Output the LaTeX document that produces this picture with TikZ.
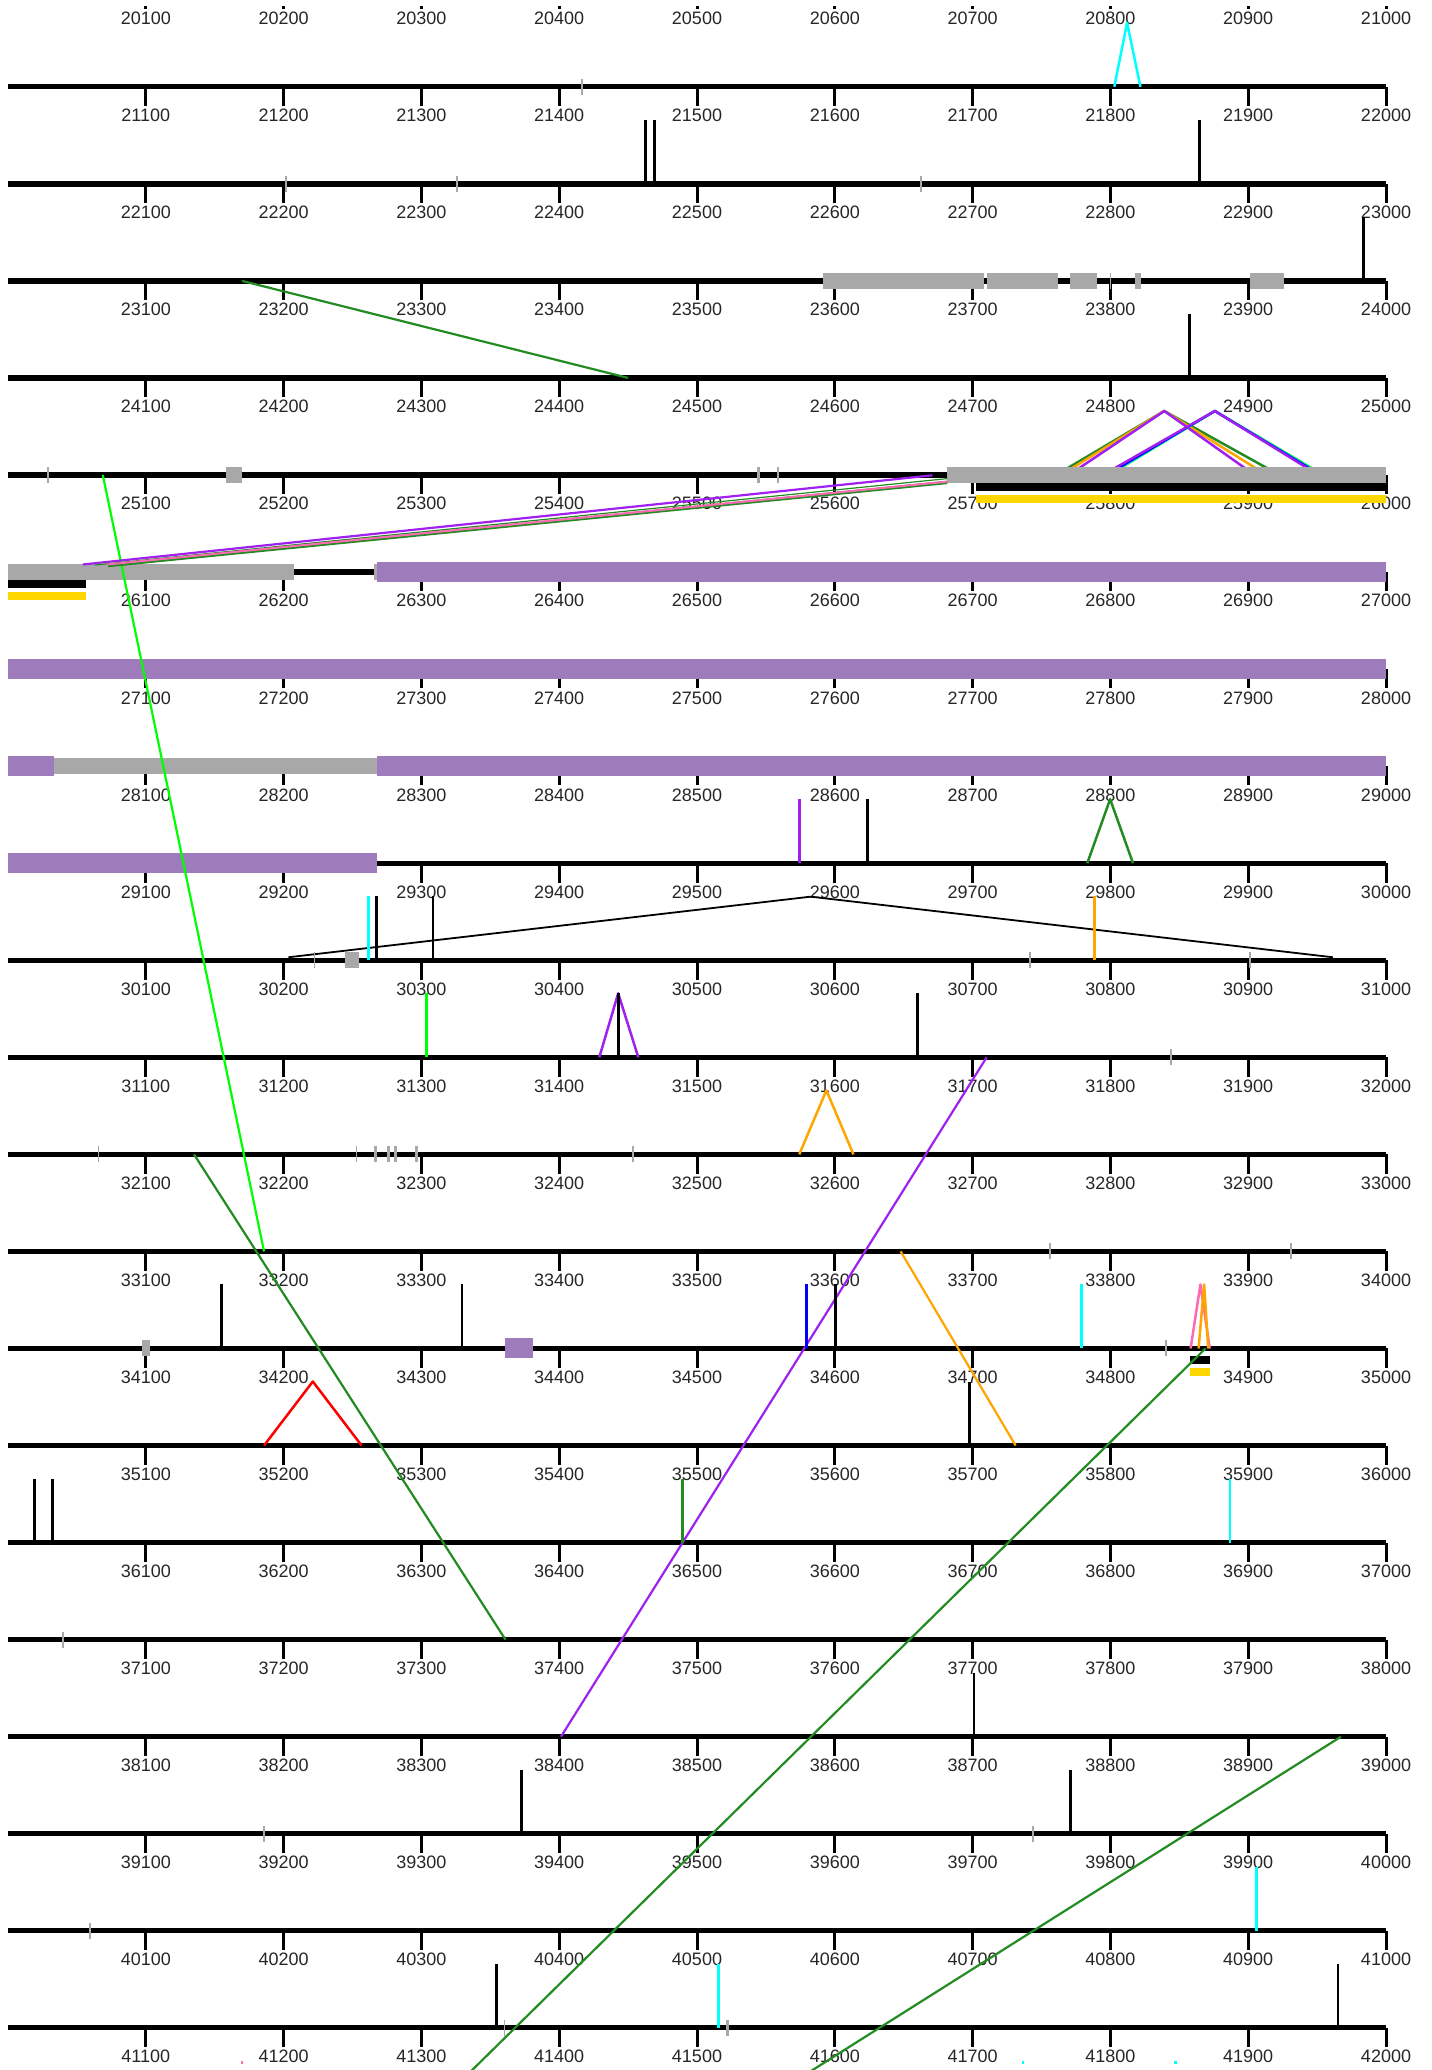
\documentclass[tikz,border=0pt]{standalone}
\usepackage{fontspec}
\setmainfont{Liberation Sans}
\definecolor{gboxc}{RGB}{168,168,168}
\definecolor{pboxc}{RGB}{158,124,188}
\definecolor{limec}{RGB}{0,255,0}
\definecolor{dgreen}{RGB}{34,139,34}
\definecolor{vpurple}{RGB}{160,32,240}
\definecolor{forange}{RGB}{255,165,0}
\definecolor{fpink}{RGB}{255,105,180}
\definecolor{fyellow}{RGB}{255,215,0}
\definecolor{fcyan}{RGB}{0,255,255}
\definecolor{fblue}{RGB}{0,0,255}
\definecolor{fred}{RGB}{255,0,0}
\newcommand\RX[1]{8+1.378*(#1)}
\newcommand\RY[1]{86.8+97.05*(#1)}
\newcommand\FB[3][black]{\draw[barline,#1] ({\RX{#3}},{\RY{#2}}) -- ++(0,-64);}
\newcommand\FP[5][black]{\draw[peakline,#1] ({\RX{#3}},{\RY{#2}}) -- ({\RX{#4}},{\RY{#2}-64}) -- ({\RX{#5}},{\RY{#2}});}
\newcommand\GT[3][2pt]{\draw[gtick,line width=#1] ({\RX{#3}},{\RY{#2}-8}) -- ({\RX{#3}},{\RY{#2}+8});}
\newcommand\GB[3]{\fill[gboxc] ({\RX{#2}},{\RY{#1}-8}) rectangle ({\RX{#3}},{\RY{#1}+8});}
\newcommand\PB[3]{\fill[pboxc] ({\RX{#2}},{\RY{#1}-10}) rectangle ({\RX{#3}},{\RY{#1}+10});}
\newcommand\SB[3]{\fill[black] ({\RX{#2}},{\RY{#1}+8}) rectangle ({\RX{#3}},{\RY{#1}+16});
  \fill[fyellow] ({\RX{#2}},{\RY{#1}+20}) rectangle ({\RX{#3}},{\RY{#1}+28});}
\newcommand\CN[7][black]{\draw[conline,#1] ({\RX{#3}},{\RY{#2}+(#4)}) -- ({\RX{#6}},{\RY{#5}+(#7)});}
\newcommand\TM[2][black]{\draw[barline,#1] ({\RX{#2}},2061) -- ({\RX{#2}},2063.5);}
\begin{document}
\begin{tikzpicture}[x=1pt,y=-1pt,
  rowline/.style={line width=5.3pt},
  tickline/.style={line width=3pt},
  lab/.style={font=\fontsize{18}{20}\selectfont, inner sep=0pt, anchor=center, text=black!85},
  barline/.style={line width=2.8pt},
  peakline/.style={line width=2.5pt, line join=round},
  triline/.style={line width=1.8pt, line join=round},
  gtick/.style={draw=gboxc},
  conline/.style={line width=2.2pt}]
\useasboundingbox (0,0) rectangle (1432,2070);
\begin{scope}
\clip (7,6.7) rectangle (1425,2069);
% rows, ticks, labels
\foreach \k in {-1,...,20}{
  \draw[rowline] ({\RX{0}},{\RY{\k}}) -- ({\RX{1000}},{\RY{\k}});
  \foreach \j in {1,...,10}{
    \draw[tickline] ({\RX{100*\j}},{\RY{\k}}) -- ++(0,19.3);
    \node[lab] at ({\RX{100*\j}},{\RY{\k}+28.7}) {\number\numexpr20000+1000*(\k+1)+100*\j\relax};
  }
}
% peaks
\FP[fcyan]{0}{802.8}{812.1}{821.8}
\FP[dgreen]{8}{783.2}{799.8}{816.4}
\FP[vpurple]{10}{429.1}{442.8}{457.4}
\FP[forange]{11}{574.2}{593.9}{613.5}
\FP[fred]{14}{185.8}{221.2}{256.6}
\FP[fpink]{13}{858.2}{865.3}{872.1}
\FP[forange]{13}{864.0}{868.0}{871.0}
\FP[dgreen]{4}{760.5}{839.1}{922.6}
\FP[forange]{4}{764.2}{839.1}{913.3}
\FP[vpurple]{4}{769.9}{839.1}{904.7}
\FP[limec]{4}{799}{875.8}{954.5}
\FP[fcyan]{4}{798}{875.8}{953.2}
\FP[fblue]{4}{797.1}{875.8}{952.4}
\FP[vpurple]{4}{794.5}{875.8}{951}
\draw[triline] ({\RX{203.5}},{\RY{9}-3}) -- ({\RX{582.5}},{\RY{9}-63.6}) -- ({\RX{961.4}},{\RY{9}-3});
% boxes
\GB{2}{591.5}{708.2} \GB{2}{710.2}{762.2} \GB{2}{770.8}{790.1} \GB{2}{818.1}{822.2} \GB{2}{901.4}{926.1}
\GB{4}{158.1}{169.8} \GB{4}{681.6}{1000}
\GB{5}{0}{207.5} \GB{5}{265.8}{268.2}
\GB{7}{33.5}{268.1}
\GB{9}{244.5}{254.8}
\GB{13}{97}{103}
\PB{5}{268.1}{1000} \PB{6}{0}{1000} \PB{7}{0}{33.5} \PB{7}{268.1}{1000} \PB{8}{0}{268.1} \PB{13}{361}{381}
\SB{4}{702.5}{1000} \SB{5}{0}{56.5} \SB{13}{857.8}{872}
% connectors
\CN[dgreen]{2}{169.8}{0}{3}{450.1}{0}
\CN[limec]{4}{68.8}{0}{12}{185.8}{0}
\draw[conline,vpurple] (932.4,475.3) -- (82.7,564.5);
\draw[line width=1.2pt,dgreen] (947.3,478.6) -- (95,565);
\draw[line width=3.4pt,dgreen] (947.3,482.4) -- (108,565.5);
\draw[line width=2pt,fpink] (947.3,481.6) -- (107,564.5);
\CN[dgreen]{11}{135.0}{0}{16}{361.0}{0}
\CN[vpurple]{10}{710.2}{0}{17}{401.3}{0}
\CN[forange]{12}{647.8}{0}{14}{731.2}{0}
\CN[dgreen]{13}{869.0}{0}{21}{296.4}{0}
\CN[dgreen]{17}{967.3}{0}{21}{520.8}{0}
% bars
\FB{1}{462.4} \FB{1}{469.1} \FB{1}{864.4}
\FB{2}{983.7} \FB{3}{857.5}
\FB[vpurple]{8}{574.2} \FB{8}{623.5}
\FB[fcyan]{9}{261.5} \FB{9}{267.4} \FB{9}{308.4} \FB[forange]{9}{788.5}
\FB[limec]{10}{303.8} \FB{10}{442.8} \FB{10}{660.2}
\FB{13}{155.1} \FB{13}{329.4} \FB[fblue]{13}{579.4} \FB{13}{600.4} \FB[fcyan]{13}{779.0}
\FB{14}{697.9}
\FB{15}{19.1} \FB{15}{32.5} \FB[dgreen]{15}{489.4} \FB[fcyan]{15}{886.8}
\FB{17}{701}
\FB{18}{372.5} \FB{18}{770.9}
\FB[fcyan]{19}{906.2}
\FB{20}{354.7} \FB[fcyan]{20}{515.8} \FB{20}{965.2}
\TM[fpink]{169.8} \TM[fcyan]{736.6} \TM[fcyan]{847.2}
% gray ticks
\GT{0}{416.6}
\GT{1}{201.5} \GT{1}{325.8} \GT{1}{662.7}
\GT[1pt]{2}{799.7}
\GT{4}{29.2} \GT[2.5pt]{4}{544.8} \GT[2.5pt]{4}{558.8}
\GT[1pt]{9}{222.1} \GT{9}{741.8} \GT{9}{901.4}
\GT{10}{844.1}
\GT[1.2pt]{11}{65.8} \GT[1.5pt]{11}{252.8} \GT[3pt]{11}{266.8} \GT[3pt]{11}{275.8} \GT[3pt]{11}{281.4} \GT[3pt]{11}{296.8} \GT{11}{453.7}
\GT{12}{756.2} \GT{12}{931.1}
\GT{13}{840.3}
\GT{16}{40.2}
\GT{18}{185.8} \GT{18}{744.1}
\GT{19}{59.2}
\GT[1pt]{20}{360} \GT[3pt]{20}{522.4}
\end{scope}
\end{tikzpicture}
\end{document}
